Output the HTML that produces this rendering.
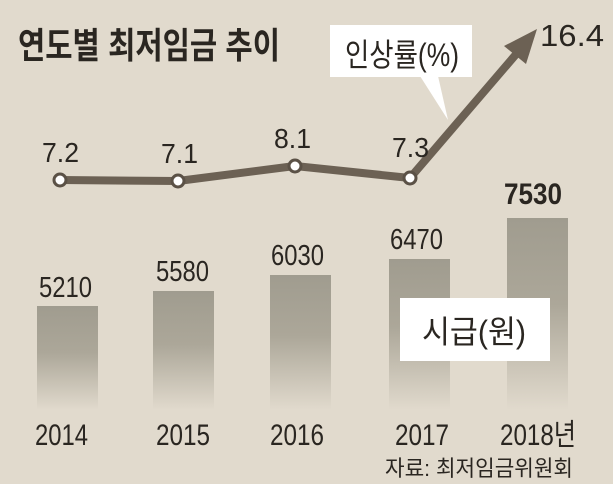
<!DOCTYPE html>
<html><head><meta charset="utf-8"><style>
html,body{margin:0;padding:0;background:#e1dacd;}
svg{display:block;}
text{font-family:"Liberation Sans","Noto Sans CJK KR",sans-serif;fill:#2a2621;}
</style></head><body>
<svg width="613" height="484" viewBox="0 0 613 484" xmlns="http://www.w3.org/2000/svg">
<defs>
<linearGradient id="g" x1="0" y1="0" x2="0" y2="1">
<stop offset="0" stop-color="#a09c8f"/>
<stop offset="0.45" stop-color="#aca799"/>
<stop offset="1" stop-color="#e1dacd"/>
</linearGradient>
</defs>
<rect width="613" height="484" fill="#e1dacd"/>
<text x="18" y="58" font-size="36" font-weight="bold" textLength="262" lengthAdjust="spacingAndGlyphs">연도별 최저임금 추이</text>
<rect x="37" y="306" width="61" height="104" fill="url(#g)"/>
<rect x="153" y="291" width="61" height="119" fill="url(#g)"/>
<rect x="270" y="275" width="61" height="135" fill="url(#g)"/>
<rect x="389" y="259" width="61" height="151" fill="url(#g)"/>
<rect x="507" y="218" width="61" height="192" fill="url(#g)"/>
<g font-size="29">
<text x="39" y="297" textLength="53" lengthAdjust="spacingAndGlyphs">5210</text>
<text x="156" y="281" textLength="53" lengthAdjust="spacingAndGlyphs">5580</text>
<text x="271" y="265" textLength="53" lengthAdjust="spacingAndGlyphs">6030</text>
<text x="390" y="249" textLength="53" lengthAdjust="spacingAndGlyphs">6470</text>
<text x="504" y="204" font-weight="bold" font-size="30" textLength="58" lengthAdjust="spacingAndGlyphs">7530</text>
</g>
<rect x="400" y="298" width="150" height="63" fill="#fff"/>
<text x="422" y="343" font-size="32" textLength="104" lengthAdjust="spacingAndGlyphs">시급(원)</text>
<polygon points="420,76 438,76 448,120" fill="#fff"/>
<rect x="330" y="25" width="142" height="52" fill="#fff"/>
<text x="345" y="66" font-size="32" textLength="114" lengthAdjust="spacingAndGlyphs">인상률(%)</text>
<polyline points="60,180 178,181 295,166 410,178 518,52" fill="none" stroke="#6c6154" stroke-width="8" stroke-linejoin="round"/>
<polygon points="537,29 504,46 526,64" fill="#6c6154"/>
<g fill="#fff" stroke="#5b5146" stroke-width="3">
<circle cx="60" cy="180" r="6"/><circle cx="178" cy="181" r="6"/><circle cx="295" cy="166" r="6"/><circle cx="410" cy="178" r="6"/>
</g>
<g font-size="28">
<text x="42" y="162" textLength="37" lengthAdjust="spacingAndGlyphs">7.2</text>
<text x="161" y="163" textLength="37" lengthAdjust="spacingAndGlyphs">7.1</text>
<text x="274" y="148" textLength="37" lengthAdjust="spacingAndGlyphs">8.1</text>
<text x="392" y="157" textLength="37" lengthAdjust="spacingAndGlyphs">7.3</text>
<text x="540" y="46" font-size="31" textLength="64" lengthAdjust="spacingAndGlyphs">16.4</text>
</g>
<g font-size="30">
<text x="35" y="445" textLength="53" lengthAdjust="spacingAndGlyphs">2014</text>
<text x="156" y="445" textLength="54" lengthAdjust="spacingAndGlyphs">2015</text>
<text x="270" y="445" textLength="54" lengthAdjust="spacingAndGlyphs">2016</text>
<text x="395" y="445" textLength="54" lengthAdjust="spacingAndGlyphs">2017</text>
<text x="500" y="445" textLength="76" lengthAdjust="spacingAndGlyphs">2018년</text>
</g>
<text x="385" y="476" font-size="22" textLength="188" lengthAdjust="spacingAndGlyphs">자료: 최저임금위원회</text>
</svg>
</body></html>
